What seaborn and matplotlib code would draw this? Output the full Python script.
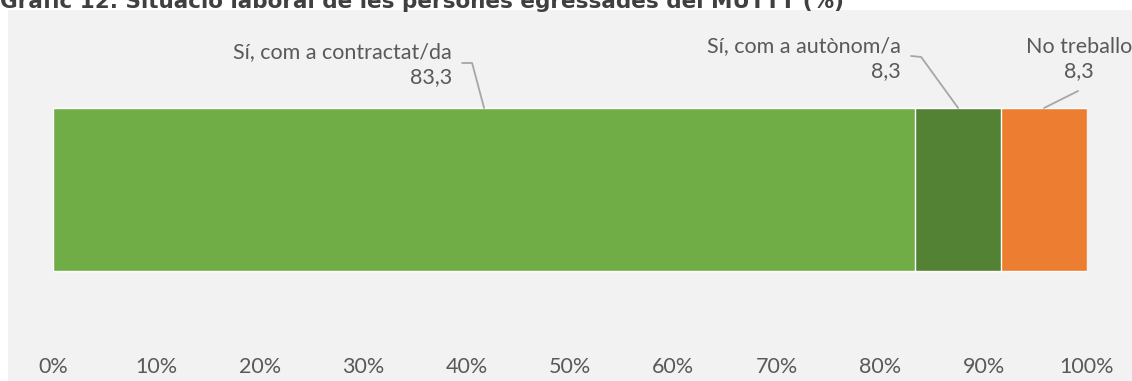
import numpy as np
import pandas as pd
import matplotlib
matplotlib.use("Agg")
import matplotlib.pyplot as plt
from matplotlib.patches import Rectangle
from matplotlib.lines import Line2D
import seaborn as sns

# Survey answers and their shares (%)
categories = ["Sí, com a contractat/da", "Sí, com a autònom/a", "No treballo"]
values = [83.3, 8.3, 8.3]
colors = ["#70AD47", "#548235", "#ED7D31"]
tick_values = [0, 10, 20, 30, 40, 50, 60, 70, 80, 90, 100]
tick_labels = [f"{v}%" for v in tick_values]
title = "Gràfic 12. Situació laboral de les persones egressades del MUTTT (%)"

sns.set_theme(style="white")
plt.rcParams["font.family"] = ["Lato", "DejaVu Sans"]

W, H, DPI = 1132, 381, 100
fig = plt.figure(figsize=(W / DPI, H / DPI), dpi=DPI)
fig.patch.set_facecolor("white")

# light grey chart area
fig.add_artist(Rectangle((8 / W, 0), (W - 8) / W, (H - 10) / H,
                         transform=fig.transFigure, facecolor="#F2F2F2",
                         edgecolor="none", zorder=0))

ax = fig.add_axes([53 / W, 1 - 350 / H, (1087 - 53) / W, 340 / H])
ax.set_facecolor("none")

# 100% stacked bar: normalise and draw cumulative totals back to front
shares = np.array(values) / np.sum(values) * 100
cum = np.cumsum(shares)
starts = cum - shares
df = pd.DataFrame({"cat": categories, "cum": cum, "row": ["MUTTT"] * 3})
for i in reversed(range(len(categories))):
    sns.barplot(data=df.iloc[[i]], x="cum", y="row", color=colors[i],
                saturation=1, width=0.8, orient="h", ax=ax, zorder=2)

ax.set_xlim(0, 100)
ax.set_ylim(0.788, -0.881)
ax.set_xticks(tick_values)
ax.set_xticklabels(tick_labels)
ax.tick_params(axis="x", length=0, pad=5, labelsize=15.5, labelcolor="#595959")
ax.set_yticks([])
ax.set_xlabel("")
ax.set_ylabel("")
for s in ax.spines.values():
    s.set_visible(False)

fig.text(0, 1 - 8 / H, title, ha="left", va="baseline", fontsize=15.5,
         fontweight="bold", color="#404040", family="DejaVu Sans")

# data labels with leader lines (offsets in pixels from the bar top)
fig.canvas.draw()
label_cfg = [
    dict(path=[(0, 0), (-12, 45), (-22, 45)], text=(-32, 43), ha="right"),
    dict(path=[(0, 0), (-37, 51), (-47, 52)], text=(-57, 49), ha="right"),
    dict(path=[(0, 0), (34, 17)], text=(35, 49), ha="center"),
]
for i, cfg in enumerate(label_cfg):
    mid = starts[i] + shares[i] / 2
    ax0, ay0 = ax.transData.transform((mid, -0.4))
    xs = [ax0 + dx for dx, dy in cfg["path"]]
    ys = [ay0 + dy for dx, dy in cfg["path"]]
    fig.add_artist(Line2D(xs, ys, transform=None, color="#A6A6A6", lw=1.3, zorder=3))
    tx, ty = cfg["text"]
    label = f"{categories[i]}\n{values[i]:.1f}".replace(".", ",")
    fig.text(ax0 + tx, ay0 + ty, label, transform=None, ha=cfg["ha"],
             va="center", multialignment=cfg["ha"], fontsize=15.5,
             color="#595959", linespacing=1.3)

fig.savefig("out.png", dpi=DPI)
